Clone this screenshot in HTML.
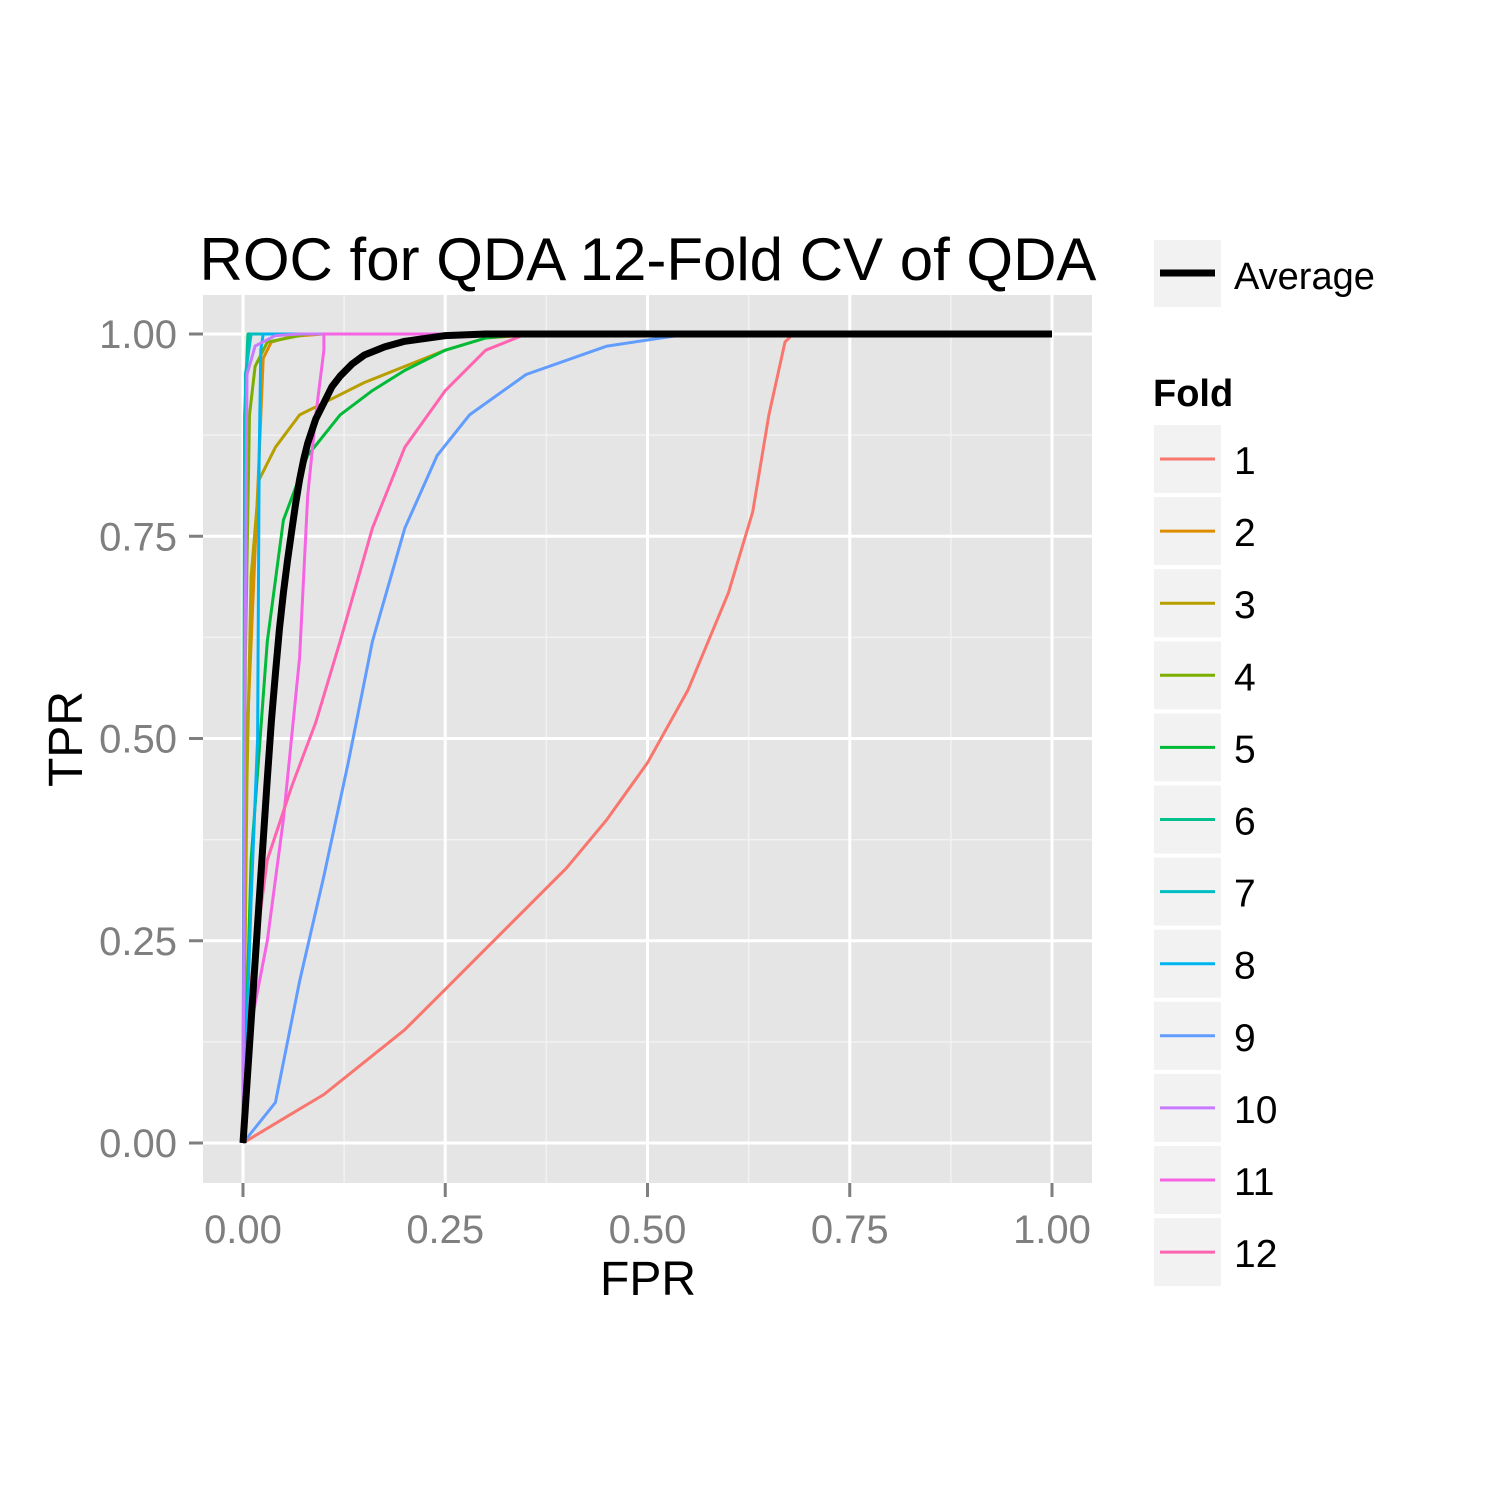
<!DOCTYPE html>
<html><head><meta charset="utf-8"><style>
html,body{margin:0;padding:0;background:#fff;}
svg{display:block;font-family:"Liberation Sans",sans-serif;}
</style></head><body>
<svg id="chart" width="1500" height="1500" viewBox="0 0 1500 1500">
<rect x="0" y="0" width="1500" height="1500" fill="#fff"/>
<text x="648" y="280" font-size="60" text-anchor="middle" fill="#000">ROC for QDA 12-Fold CV of QDA</text>
<rect x="203" y="295" width="889" height="888" fill="#e5e5e5"/>
<g id="grid"></g>
<g id="series"></g>
<g id="axes"></g>
<text x="648" y="1295" font-size="48" text-anchor="middle">FPR</text>
<text transform="translate(82,739) rotate(-90)" font-size="48" text-anchor="middle">TPR</text>
<g id="legend"></g>
</svg>
<script>
const ticks=[0,0.25,0.5,0.75,1];
const tickLabels=["0.00","0.25","0.50","0.75","1.00"];
const minorTicks=[0.125,0.375,0.625,0.875];
const foldNames=["1","2","3","4","5","6","7","8","9","10","11","12"];
const foldColors=["#F8766D","#DE8C00","#B79F00","#7CAE00","#00BA38","#00C08B","#00BFC4","#00B4F0","#619CFF","#C77CFF","#F564E3","#FF64B0"];
const fold1=[[0,0],[0.05,0.03],[0.1,0.06],[0.15,0.1],[0.2,0.14],[0.25,0.19],[0.3,0.24],[0.35,0.29],[0.4,0.34],[0.45,0.4],[0.5,0.47],[0.55,0.56],[0.6,0.68],[0.63,0.78],[0.65,0.9],[0.67,0.99],[0.68,1],[1,1]];
const fold2=[[0,0],[0.005,0.5],[0.02,0.85],[0.025,0.97],[0.035,0.99],[0.06,0.997],[0.1,1],[1,1]];
const fold3=[[0,0],[0.005,0.45],[0.01,0.7],[0.02,0.82],[0.04,0.86],[0.07,0.9],[0.1,0.915],[0.15,0.94],[0.2,0.96],[0.25,0.98],[0.3,0.995],[0.37,1],[1,1]];
const fold4=[[0,0],[0.003,0.6],[0.008,0.9],[0.015,0.96],[0.03,0.99],[0.08,1],[1,1]];
const fold5=[[0,0],[0.01,0.35],[0.03,0.62],[0.05,0.77],[0.08,0.85],[0.12,0.9],[0.16,0.93],[0.2,0.955],[0.25,0.98],[0.3,0.995],[0.35,1],[1,1]];
const fold6=[[0,0],[0.002,0.9],[0.006,1],[1,1]];
const fold7=[[0,0],[0.003,0.95],[0.01,1],[1,1]];
const fold8=[[0,0],[0.01,0.3],[0.018,0.5],[0.02,0.85],[0.022,0.98],[0.025,1],[1,1]];
const fold9=[[0,0],[0.04,0.05],[0.07,0.2],[0.1,0.33],[0.13,0.47],[0.16,0.62],[0.2,0.76],[0.24,0.85],[0.28,0.9],[0.35,0.95],[0.45,0.985],[0.55,1],[1,1]];
const fold10=[[0,0],[0.002,0.5],[0.005,0.95],[0.015,0.985],[0.04,0.998],[0.07,1],[1,1]];
const fold11=[[0,0],[0.005,0.12],[0.03,0.25],[0.05,0.4],[0.07,0.6],[0.08,0.8],[0.09,0.9],[0.1,0.98],[0.1,1],[1,1]];
const fold12=[[0,0],[0.01,0.2],[0.03,0.35],[0.06,0.44],[0.09,0.52],[0.12,0.62],[0.16,0.76],[0.2,0.86],[0.25,0.93],[0.3,0.98],[0.35,1],[1,1]];
const folds=[fold1,fold2,fold3,fold4,fold5,fold6,fold7,fold8,fold9,fold10,fold11,fold12];
const average=[[0,0],[0.01,0.15],[0.02,0.3],[0.03,0.45],[0.035,0.52],[0.04,0.58],[0.045,0.635],[0.05,0.68],[0.055,0.72],[0.06,0.755],[0.065,0.79],[0.07,0.82],[0.075,0.845],[0.08,0.865],[0.09,0.895],[0.1,0.915],[0.11,0.935],[0.12,0.948],[0.135,0.963],[0.15,0.974],[0.175,0.984],[0.2,0.991],[0.25,0.998],[0.3,1],[1,1]];

const NS="http://www.w3.org/2000/svg";
const X=v=>243+v*809, Y=v=>1143-v*809;
function mk(tag,attrs,parent){const e=document.createElementNS(NS,tag);for(const k in attrs)e.setAttribute(k,attrs[k]);parent.appendChild(e);return e;}
const grid=document.getElementById('grid'),axes=document.getElementById('axes'),series=document.getElementById('series'),legend=document.getElementById('legend');
minorTicks.forEach(t=>{
  let l=mk('line',{x1:X(t),x2:X(t),y1:295,y2:1183,stroke:'#f2f2f2','stroke-width':1.5},grid);
  
  
  l=mk('line',{x1:203,x2:1092,y1:Y(t),y2:Y(t),stroke:'#f2f2f2','stroke-width':1.5},grid);
  
  
});
ticks.forEach((t,i)=>{
  let l=mk('line',{x1:X(t),x2:X(t),y1:295,y2:1183,stroke:'#fff','stroke-width':3},grid);
  
  
  l=mk('line',{x1:203,x2:1092,y1:Y(t),y2:Y(t),stroke:'#fff','stroke-width':3},grid);
  
  
  l=mk('line',{x1:X(t),x2:X(t),y1:1183,y2:1197,stroke:'#7f7f7f','stroke-width':3},axes);
  
  
  l=mk('line',{x1:189,x2:203,y1:Y(t),y2:Y(t),stroke:'#7f7f7f','stroke-width':3},axes);
  
  
  let tx=mk('text',{x:X(t),y:1243,'font-size':40,'text-anchor':'middle',fill:'#7f7f7f'},axes);
  tx.textContent=tickLabels[i];
  
  
  tx=mk('text',{x:177,y:Y(t)+14,'font-size':40,'text-anchor':'end',fill:'#7f7f7f'},axes);
  tx.textContent=tickLabels[i];
  
  
});
const pts=d=>d.map(p=>X(p[0]).toFixed(1)+','+Y(p[1]).toFixed(1)).join(' ');
folds.forEach((d,i)=>{
  const p=mk('polyline',{points:pts(d),fill:'none',stroke:foldColors[i],'stroke-width':3,'stroke-linejoin':'round'},series);
  
  
});
const avg=mk('polyline',{points:pts(average),fill:'none',stroke:'#000','stroke-width':7,'stroke-linejoin':'round'},series);


let r=mk('rect',{x:1154,y:240,width:67,height:67,fill:'#f2f2f2'},legend);


let ln=mk('line',{x1:1160,x2:1215,y1:273,y2:273,stroke:'#000','stroke-width':7},legend);


let t=mk('text',{x:1234,y:289,'font-size':38},legend);t.textContent='Average';


t=mk('text',{x:1153,y:406,'font-size':38,'font-weight':'bold'},legend);t.textContent='Fold';


foldNames.forEach((n,i)=>{
  const y=425+i*72.1;
  const b=mk('rect',{x:1154,y:y,width:67,height:68,fill:'#f2f2f2'},legend);
  
  
  const s=mk('line',{x1:1160,x2:1215,y1:y+34,y2:y+34,stroke:foldColors[i],'stroke-width':3},legend);
  
  
  const tx=mk('text',{x:1234,y:y+49,'font-size':39},legend);tx.textContent=n;
  
  
});
</script>
</body></html>
